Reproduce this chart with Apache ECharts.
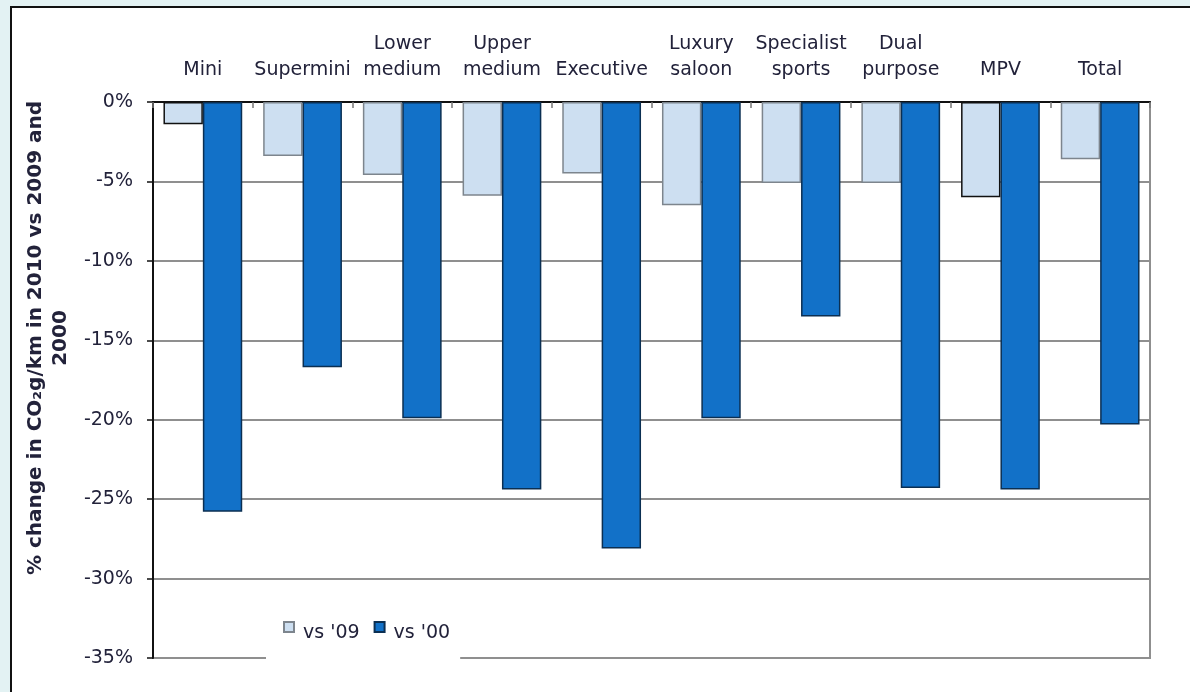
<!DOCTYPE html>
<html>
<head>
<meta charset="utf-8">
<script src="https://cdn.jsdelivr.net/npm/echarts@6/dist/echarts.min.js"></script>
<style>
  html, body { margin: 0; padding: 0; background: #e3f2f3; }
  #chart { width: 1190px; height: 692px; }
</style>
</head>
<body>
<div id="chart"></div>
<script>
// Segments of the car market
const categories = ['Mini', 'Supermini', 'Lower\nmedium', 'Upper\nmedium', 'Executive',
  'Luxury\nsaloon', 'Specialist\nsports', 'Dual\npurpose', 'MPV', 'Total'];

// % change in average CO2 g/km, 2010 compared with 2009 and with 2000
const vs09 = [-1.4, -3.4, -4.6, -5.9, -4.5, -6.5, -5.1, -5.1, -6.0, -3.6];
const vs00 = [-25.8, -16.7, -19.9, -24.4, -28.1, -19.9, -13.5, -24.3, -24.4, -20.3];

// Y axis ticks
const yMin = -35, yMax = 0, yStep = 5;

const FONT = '"DejaVu Sans", "Liberation Sans", Arial, sans-serif';
const TEXT = '#22223a';

// Two of the light bars carry a darker outline
const darkOutline = new Set(['Mini', 'MPV']);
const vs09Data = vs09.map((v, i) => darkOutline.has(categories[i])
  ? { value: v, itemStyle: { borderColor: '#111' } }
  : v);

const chart = echarts.init(document.getElementById('chart'));
chart.setOption({
  backgroundColor: '#e3f2f3',
  animation: false,
  textStyle: { fontFamily: FONT },
  graphic: [{
    type: 'rect', z: -10,
    shape: { x: 11, y: 7, width: 1220, height: 720 },
    style: { fill: '#ffffff', stroke: '#111', lineWidth: 2 }
  }],
  grid: {
    left: 153, top: 102, right: 40, bottom: 34,
    show: true, borderColor: '#8f8f8f', borderWidth: 2, backgroundColor: 'transparent'
  },
  legend: {
    left: 266, top: 607,
    padding: [14, 10, 26, 17],
    backgroundColor: '#ffffff',
    z: 10,
    itemWidth: 10, itemHeight: 10, itemGap: 14,
    // the swatch sits a little above the label text
    formatter: name => '{t|' + name + '}',
    textStyle: {
      rich: {
        t: { fontFamily: FONT, fontSize: 19, color: TEXT, padding: [12, 0, 0, 4] }
      }
    },
    data: [
      { name: "vs '09", icon: 'rect' },
      { name: "vs '00", icon: 'rect' }
    ]
  },
  xAxis: {
    type: 'category',
    position: 'top',
    data: categories,
    axisLine: { lineStyle: { color: '#111', width: 2 } },
    axisTick: { show: true, inside: true, length: 6, lineStyle: { color: '#777', width: 1.5 } },
    axisLabel: {
      fontFamily: FONT, fontSize: 19, color: TEXT, lineHeight: 26,
      verticalAlign: 'bottom', margin: 19, interval: 0
    }
  },
  yAxis: {
    type: 'value',
    min: yMin, max: yMax, interval: yStep,
    name: '% change in CO\u2082g/km in 2010 vs 2009 and\n2000',
    nameLocation: 'middle',
    nameRotate: 90,
    nameGap: 68,
    nameTextStyle: {
      fontFamily: FONT, fontSize: 20, fontWeight: 'bold', color: TEXT,
      lineHeight: 25, align: 'center', padding: [0, 0, 0, 84]
    },
    axisLine: { show: true, lineStyle: { color: '#111', width: 2 } },
    axisTick: { show: true, length: 6, lineStyle: { color: '#111', width: 1.5 } },
    axisLabel: {
      fontFamily: FONT, fontSize: 19, color: TEXT, margin: 20,
      formatter: '{value}%'
    },
    splitLine: { lineStyle: { color: '#8f8f8f', width: 2 } }
  },
  series: [
    {
      name: "vs '09",
      type: 'bar',
      data: vs09Data,
      barGap: '0%',
      barCategoryGap: '21%',
      itemStyle: { color: '#cddff1', borderColor: '#7d858d', borderWidth: 1.5 }
    },
    {
      name: "vs '00",
      type: 'bar',
      data: vs00,
      barGap: '0%',
      barCategoryGap: '21%',
      itemStyle: { color: '#1271c8', borderColor: '#0b2f52', borderWidth: 1.5 }
    }
  ]
});
</script>
</body>
</html>
